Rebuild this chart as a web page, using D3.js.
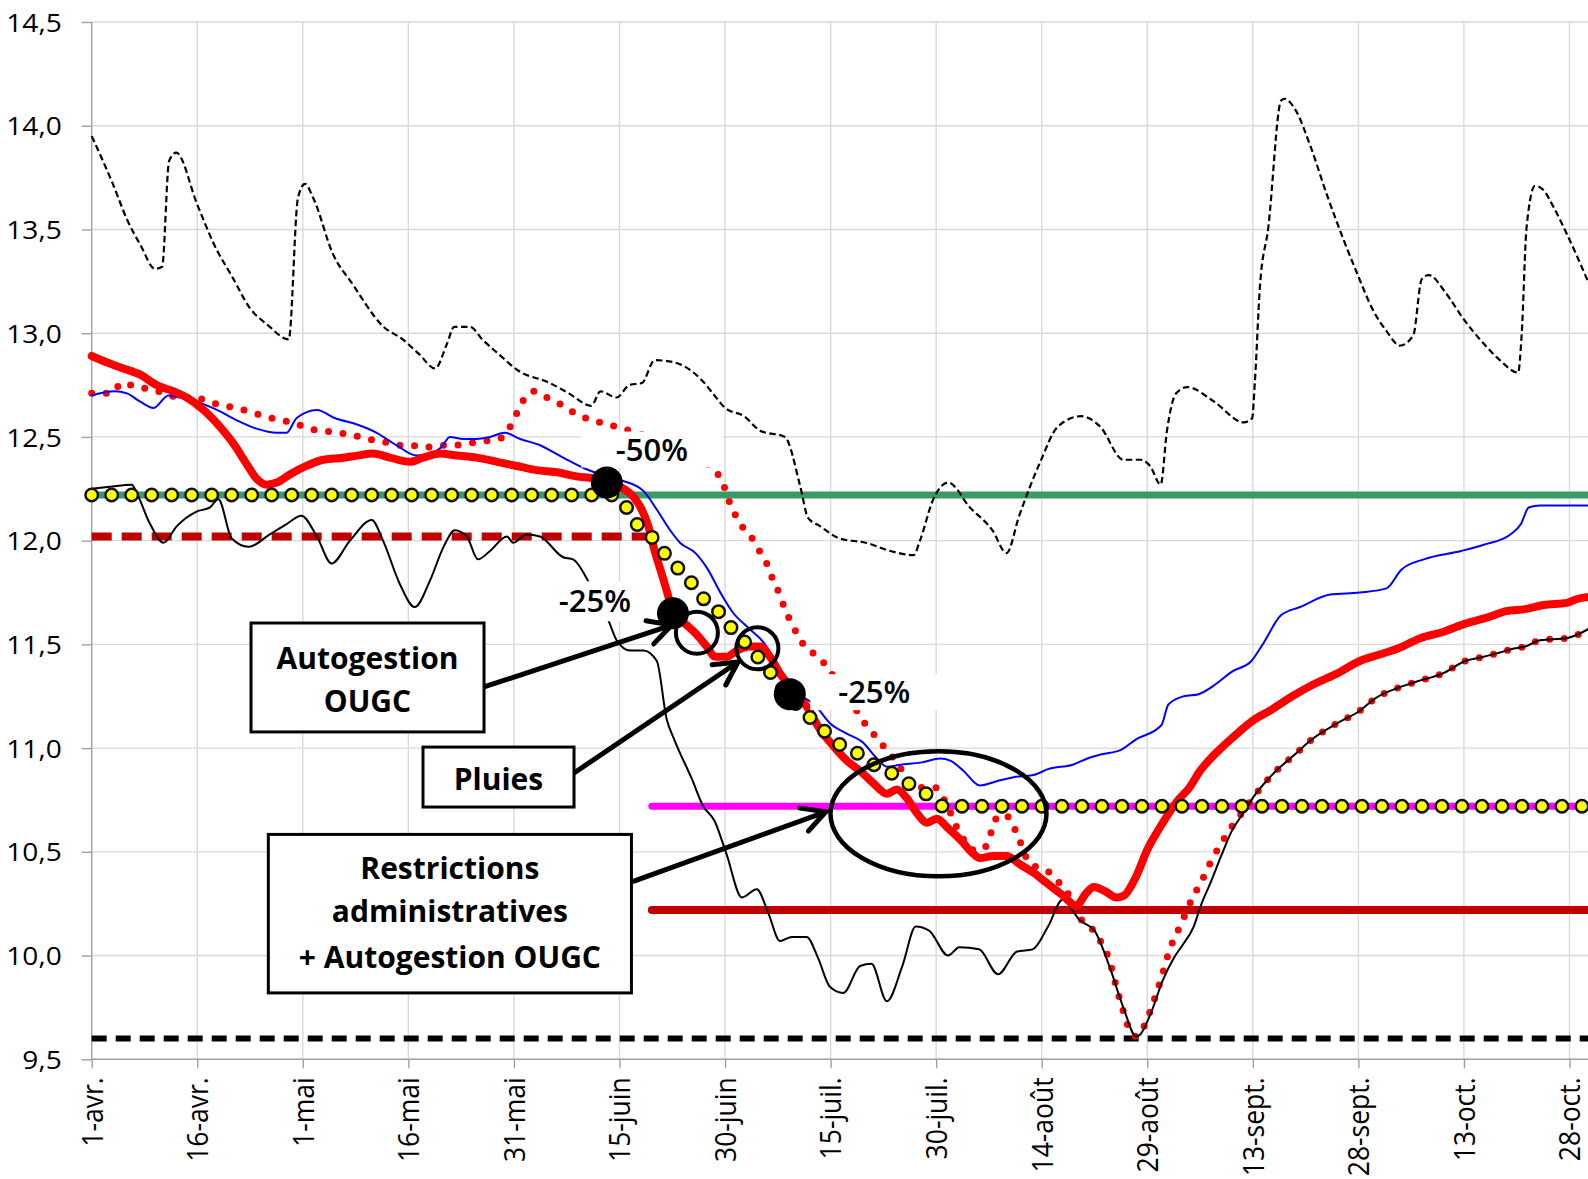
<!DOCTYPE html>
<html><head><meta charset="utf-8">
<script src="https://cdn.jsdelivr.net/npm/d3@7"></script>
<style>
body{margin:0;background:#fff}
svg{display:block}
text{font-family:'Open Sans',sans-serif}
</style>
</head><body>
<svg id="chart" width="1588" height="1179"></svg>
<script>
// ---------- DATA (x = days since 1 April, y = level in m) ----------
const xTickDays = [0,15,30,45,60,75,90,105,120,135,150,165,180,195,210];
const xTickLabels = ["1-avr.","16-avr.","1-mai","16-mai","31-mai","15-juin","30-juin","15-juil.","30-juil.","14-août","29-août","13-sept.","28-sept.","13-oct.","28-oct."];
const yTickValues = [9.5,10,10.5,11,11.5,12,12.5,13,13.5,14,14.5];

const upperDashed = [[0,13.95],[3,13.72],[5,13.55],[7,13.42],[9,13.31],[10,13.32],[11,13.83],[12,13.87],[15,13.62],[17.5,13.42],[20,13.27],[22.5,13.12],[25,13.04],[28,12.97],[29.3,13.65],[30.3,13.72],[31.5,13.65],[34.3,13.38],[37,13.24],[41.5,13.03],[44.2,12.97],[46.5,12.9],[48.8,12.83],[50.5,12.95],[51.5,13.03],[53.8,13.03],[55.5,12.97],[57.8,12.90],[60.6,12.82],[65.1,12.76],[67.8,12.71],[71,12.65],[72.3,12.72],[74.6,12.69],[76.4,12.75],[78.2,12.76],[80,12.87],[82.7,12.86],[86.8,12.77],[88.5,12.7],[90,12.64],[92.7,12.60],[95,12.53],[98.5,12.50],[100.7,12.26],[101.8,12.11],[103.5,12.07],[106.3,12.01],[110,11.99],[113.5,11.95],[116.8,11.93],[117.7,12.0],[119.6,12.20],[121.7,12.28],[124.8,12.16],[128,12.05],[130,11.94],[131.8,12.12],[134.8,12.38],[137.3,12.55],[140.6,12.60],[143.3,12.55],[146.6,12.39],[149,12.39],[150.4,12.36],[151.9,12.27],[152.8,12.53],[154.1,12.71],[155.7,12.74],[159.5,12.67],[163.7,12.57],[164.9,12.59],[165.3,12.77],[166,13.22],[167.2,13.51],[169,14.12],[169.5,14.13],[171,14.08],[173.2,13.90],[175.5,13.67],[177.9,13.45],[179.8,13.29],[182.1,13.11],[184,13.01],[185.9,12.94],[187.8,12.99],[189,13.26],[190,13.28],[192.5,13.19],[194.9,13.07],[197.8,12.95],[200.1,12.87],[202.7,12.81],[203.2,12.99],[203.9,13.51],[205.1,13.71],[206.3,13.69],[207.7,13.61],[209.6,13.48],[213,13.22]];

const lowerSolid = [[0,12.25],[2.6,12.26],[5.7,12.27],[6.4,12.23],[8.3,12.08],[10.2,11.99],[12.1,12.07],[14.9,12.14],[16.8,12.16],[18,12.20],[19.9,12.01],[22.3,11.97],[25.3,12.03],[27.7,12.08],[29.8,12.12],[32,12.02],[34.1,11.89],[36.7,12.0],[39.8,12.10],[41.4,12.0],[43.8,11.79],[45.9,11.68],[48.1,11.81],[50,11.97],[51.6,12.05],[53.3,12.02],[54.9,11.91],[56.6,11.95],[59,12.02],[59.9,11.99],[61.8,12.03],[63.7,12.02],[67,11.92],[68.4,11.91],[70.8,11.79],[73.5,11.61],[74.6,11.52],[76.5,11.47],[78.4,11.47],[80.3,11.42],[81.7,11.14],[82.8,11.04],[85.3,10.85],[86.9,10.72],[88.5,10.65],[90.2,10.49],[92.4,10.28],[94.5,10.32],[96.2,10.20],[97.8,10.07],[99.5,10.09],[101.6,10.09],[103.2,9.99],[104.9,9.85],[106.8,9.82],[109.2,9.95],[110.8,9.96],[113,9.78],[115.2,9.95],[117.1,10.14],[119,10.12],[121.7,10.0],[123.3,10.04],[126.1,10.03],[128.8,9.91],[131.5,10.02],[133.7,10.03],[135.9,10.14],[138,10.27],[140.4,10.17],[142.5,10.12],[144.6,9.95],[146.7,9.74],[148.4,9.61],[149,9.62],[150.6,9.73],[152.2,9.88],[153.8,9.99],[155,10.05],[156.6,10.14],[157.6,10.24],[159.1,10.36],[160.5,10.48],[162,10.6],[163.5,10.68],[165,10.76],[168,10.88],[171,10.97],[173.3,11.04],[177,11.12],[180.2,11.18],[182.4,11.24],[185.6,11.29],[188.2,11.32],[192,11.36],[195.2,11.42],[197.8,11.44],[200,11.46],[202.1,11.48],[203.7,11.49],[205.8,11.52],[209.6,11.53],[213,11.58]];

const blueLine = [[0,12.70],[3.3,12.72],[5,12.71],[6.9,12.67],[8.8,12.64],[10.9,12.70],[12.5,12.69],[14.9,12.67],[17.8,12.63],[20.6,12.58],[23.4,12.54],[26.3,12.52],[27.7,12.52],[29.1,12.59],[32,12.63],[34.6,12.59],[37.7,12.56],[40.5,12.52],[43.3,12.46],[46.2,12.41],[48.1,12.42],[49.7,12.45],[50.9,12.50],[52.8,12.49],[54.7,12.49],[56.6,12.50],[58.7,12.52],[60.9,12.49],[63.7,12.46],[67,12.40],[69.9,12.35],[72.2,12.32],[75.3,12.29],[78.4,12.24],[80.3,12.15],[82.2,12.05],[83.6,11.99],[85.8,11.94],[87.4,11.87],[89.5,11.74],[91.2,11.65],[93.3,11.58],[95.9,11.49],[97.3,11.40],[99,11.30],[100.9,11.25],[102.7,11.21],[104.9,11.12],[107.3,11.07],[109.5,11.03],[111.6,10.95],[113,10.91],[114.9,10.92],[117.8,10.93],[120.6,10.95],[122,10.94],[123.9,10.89],[126.2,10.82],[128.6,10.84],[131,10.86],[133.8,10.87],[136,10.90],[139.4,10.92],[141.5,10.95],[143.5,10.97],[146.2,10.99],[148.3,11.04],[152,11.11],[153,11.21],[155.2,11.25],[157.3,11.26],[159.4,11.30],[162.1,11.37],[164.8,11.42],[166.4,11.50],[169,11.64],[171.7,11.68],[176,11.74],[180.2,11.75],[184,11.77],[186.1,11.86],[189.3,11.91],[194.6,11.95],[197.8,11.98],[201.6,12.03],[203.1,12.08],[204.2,12.16],[205.8,12.17],[209.6,12.17],[213,12.17]];

const redThick = [[0,12.89],[2.1,12.86],[4.5,12.83],[6.9,12.80],[9.2,12.75],[11.6,12.72],[13.5,12.69],[15.9,12.63],[18.2,12.55],[20.1,12.47],[22,12.37],[23.4,12.30],[24.9,12.27],[26.3,12.28],[28.2,12.32],[30.5,12.36],[32.9,12.39],[35.8,12.40],[37.7,12.41],[40,12.42],[42.4,12.40],[45.2,12.38],[47.1,12.40],[49.5,12.42],[51.9,12.41],[54.7,12.40],[57.6,12.38],[60.4,12.36],[63.2,12.34],[66.1,12.33],[68.9,12.31],[71.3,12.30],[75.1,12.26],[77,12.21],[78,12.16],[79.1,12.07],[80,11.95],[81,11.84],[81.7,11.76],[82.6,11.66],[84,11.61],[85.9,11.55],[87.4,11.49],[88.6,11.44],[90.2,11.44],[91.7,11.47],[93.5,11.49],[95,11.49],[96.4,11.44],[97.8,11.36],[99.7,11.28],[101.6,11.20],[103.5,11.09],[105.4,11.01],[107.3,10.94],[109.2,10.89],[111.1,10.83],[113,10.78],[114.4,10.80],[115.8,10.76],[117.2,10.69],[118.7,10.64],[120.1,10.66],[121.5,10.62],[123.4,10.56],[125.3,10.49],[126.2,10.47],[128.1,10.48],[130,10.48],[131.9,10.44],[133.8,10.40],[135.7,10.35],[138,10.29],[139.9,10.24],[141.3,10.30],[142.4,10.33],[144,10.31],[145.6,10.28],[146.7,10.29],[148.4,10.38],[150,10.51],[152.2,10.64],[154.4,10.75],[156,10.81],[157.5,10.89],[159,10.95],[160.5,11.0],[162.1,11.05],[165.3,11.14],[167.4,11.18],[170.6,11.25],[173.8,11.31],[177,11.36],[180.2,11.42],[182.9,11.45],[185.6,11.48],[188.8,11.53],[192,11.56],[195.2,11.60],[198.4,11.63],[201,11.66],[203.7,11.67],[206.3,11.69],[209.6,11.70],[211.2,11.72],[213,11.73]];

const redDotted = [[0,12.71],[2.8,12.71],[4.3,12.76],[6.4,12.74],[8.3,12.73],[10.4,12.71],[12.5,12.69],[14.7,12.69],[16.6,12.67],[18.7,12.65],[20.6,12.64],[22.5,12.62],[24.6,12.60],[26.7,12.58],[28.6,12.57],[30.8,12.54],[32.9,12.53],[34.8,12.52],[36.9,12.51],[39.1,12.49],[41.2,12.48],[43.3,12.46],[45.2,12.46],[47.4,12.45],[49.5,12.46],[51.6,12.46],[53.8,12.47],[55.9,12.48],[57.9,12.49],[59.3,12.54],[60.2,12.60],[61.2,12.67],[62.8,12.72],[64.7,12.69],[66.5,12.66],[68.4,12.62],[70.3,12.59],[72.2,12.57],[74.4,12.55],[76.5,12.53],[80,12.49],[84,12.44],[87,12.38],[89,12.32],[90,12.25],[90.7,12.18],[91.7,12.11],[92.8,12.05],[94.3,11.99],[95.2,11.93],[96.2,11.87],[96.9,11.80],[97.8,11.74],[98.5,11.67],[99.5,11.60],[100.4,11.54],[101.6,11.48],[103.3,11.44],[104.7,11.38],[106.5,11.29],[108.2,11.21],[109.4,11.14],[110.6,11.09],[112,11.03],[113.5,10.97],[114.6,10.92],[115.8,10.86],[117.5,10.81],[119.8,10.81],[121,10.76],[122,10.69],[122.9,10.62],[123.9,10.56],[125.1,10.51],[126.6,10.51],[127.6,10.57],[128.3,10.65],[129.5,10.68],[130.7,10.65],[131.5,10.58],[132.3,10.52],[133.1,10.45],[136.1,10.40],[137.5,10.35],[138.9,10.29],[140.9,10.16],[142.4,10.12],[143.5,10.06],[144.6,9.98],[145.6,9.85],[146.7,9.72],[147.5,9.64],[148.4,9.61],[149.7,9.67],[150.6,9.75],[151.9,9.88],[153.1,10.02],[154.9,10.16],[156.6,10.29],[157.6,10.35],[159,10.45],[160.5,10.54],[162,10.62],[163.5,10.69],[165,10.76],[168,10.88],[171,10.97],[173.3,11.04],[177,11.12],[180.2,11.18],[182.4,11.24],[185.6,11.29],[188.2,11.32],[192,11.36],[195.2,11.42],[197.8,11.44],[200,11.46],[202.1,11.48],[203.7,11.49],[205.8,11.52],[209.6,11.53],[213,11.58]];

const yellowTarget = [[0,12.22],[74,12.22],[76,12.16],[77.7,12.07],[79.8,12.01],[81.6,11.93],[83.5,11.86],[85.4,11.79],[87.2,11.71],[89.3,11.65],[91.1,11.57],[93.1,11.50],[94.9,11.43],[96.8,11.35],[98.8,11.26],[100.5,11.20],[102.3,11.14],[104.5,11.07],[106.6,11.01],[109.1,10.97],[111.6,10.91],[114.2,10.87],[116.5,10.82],[119,10.77],[121,10.72],[213,10.72]];

// horizontal thresholds: [value, fromDay, toDay]
const greenLevel = [12.22, 0, 213];
const darkRedDashedLevel = [12.02, 0, 79];
const darkRedLevel = [10.22, 79.6, 213];
const magentaLevel = [10.72, 79.6, 213];
const bottomDashedLevel = [9.6, 0, 213];

// annotation points
const stepPoints = [[73.2,12.28],[82.6,11.65],[99.2,11.26]];
const stepLabels = ["-50%","-25%","-25%"];
const openCircles = [[86,11.556],[94.6,11.481]];

// ---------- DRAWING ----------
const svg = d3.select("#chart");
const W = 1588, H = 1179;
const x = d3.scaleLinear().domain([0,213]).range([91.7, 91.7 + 213*7.0371]);
const y = d3.scaleLinear().domain([9.5,14.5]).range([1059.3, 22]);
const X0 = x(0), XR = W, YB = y(9.5), YT = y(14.5);

// gridlines
const grid = svg.append("g");
grid.selectAll(".gv").data(xTickDays.slice(1)).join("line")
  .attr("x1", d=>x(d)).attr("x2", d=>x(d)).attr("y1", YT).attr("y2", YB)
  .attr("stroke", "#d9d9d9").attr("stroke-width", 1.4);
grid.selectAll(".gh").data(yTickValues.slice(1)).join("line")
  .attr("x1", X0).attr("x2", XR).attr("y1", d=>y(d)).attr("y2", d=>y(d))
  .attr("stroke", "#d9d9d9").attr("stroke-width", 1.4);

// axes
const xAxis = d3.axisBottom(x).tickValues(xTickDays).tickSize(9).tickFormat((d,i)=>xTickLabels[i]);
const gx = svg.append("g").attr("transform", `translate(0,${YB})`).call(xAxis);
gx.select(".domain").attr("stroke","#a0a0a0").attr("stroke-width",1.4).attr("d", `M${X0},0H${XR}`);
gx.selectAll(".tick line").attr("stroke","#a0a0a0").attr("stroke-width",1.4);
gx.selectAll(".tick text").attr("font-size", 26.5).attr("fill","#000")
  .attr("font-family","'Open Sans',sans-serif")
  .attr("transform","scale(1.08,1) rotate(-90)").attr("text-anchor","end")
  .attr("x", -18).attr("y", 0).attr("dy","0.36em");

const yAxis = d3.axisLeft(y).tickValues(yTickValues).tickSize(10)
  .tickFormat(d=>d3.format(".1f")(d).replace(".",","));
const gy = svg.append("g").attr("transform", `translate(${X0},0)`).call(yAxis);
gy.select(".domain").attr("stroke","#a0a0a0").attr("stroke-width",1.4).attr("d", `M0,${YT}V${YB}`);
gy.selectAll(".tick line").attr("stroke","#a0a0a0").attr("stroke-width",1.4);
gy.selectAll(".tick text").attr("font-size", 26).attr("fill","#000")
  .attr("font-family","'Open Sans',sans-serif")
  .attr("transform","scale(1.08,1)").attr("x", -30/1.08).attr("dy","0.35em");

const smooth = d3.line().x(d=>x(d[0])).y(d=>y(d[1])).curve(d3.curveMonotoneX);
const straight = d3.line().x(d=>x(d[0])).y(d=>y(d[1]));
const level = L => [[L[1], L[0]], [L[2], L[0]]];

const plot = svg.append("g");
function path(data, gen, attrs){
  const p = plot.append("path").attr("d", gen(data)).attr("fill","none");
  for (const k in attrs) p.attr(k, attrs[k]);
  return p;
}
path(level(bottomDashedLevel), straight, {stroke:"#000","stroke-width":6,"stroke-dasharray":"15 9"});
path(level(darkRedDashedLevel), straight, {stroke:"#c00000","stroke-width":8,"stroke-dasharray":"20 10"});
path(level(greenLevel), straight, {stroke:"#3a9a66","stroke-width":7});
path(level(darkRedLevel), straight, {stroke:"#c00000","stroke-width":8,"stroke-linecap":"round"});
path(level(magentaLevel), straight, {stroke:"#ff00ff","stroke-width":7,"stroke-linecap":"round"});
path(upperDashed, smooth, {stroke:"#000","stroke-width":2.2,"stroke-dasharray":"6.5 3.5"});
path(redDotted, smooth, {stroke:"#ff0000","stroke-width":7,"stroke-dasharray":"0 14.6","stroke-linecap":"round"});
path(blueLine, smooth, {stroke:"#0000ff","stroke-width":2});
path(lowerSolid, smooth, {stroke:"#000","stroke-width":2});
path(redThick, smooth, {stroke:"#ff0000","stroke-width":8,"stroke-linejoin":"round","stroke-linecap":"round"});
path(yellowTarget, smooth, {stroke:"#111","stroke-width":15,"stroke-dasharray":"0 20","stroke-linecap":"round"});
path(yellowTarget, smooth, {stroke:"#ffff00","stroke-width":10,"stroke-dasharray":"0 20","stroke-linecap":"round"});

// ---------- ANNOTATIONS ----------
const ann = svg.append("g");
const labelSpecs = [
  {t:stepLabels[0], cx:x(stepPoints[0][0])+45, cy:y(stepPoints[0][1])-33, w:141, h:36},
  {t:stepLabels[1], cx:x(stepPoints[1][0])-78, cy:y(stepPoints[1][1])-12, w:96, h:40},
  {t:stepLabels[2], cx:x(stepPoints[2][0])+84.5, cy:y(stepPoints[2][1])-2, w:128, h:36}
];
labelSpecs.forEach(s=>{
  ann.append("rect").attr("x", s.cx - s.w/2).attr("y", s.cy - s.h/2).attr("width", s.w).attr("height", s.h).attr("fill","#fff");
});
labelSpecs.forEach(s=>{
  ann.append("text").attr("x", s.cx).attr("y", s.cy).attr("dy","0.36em").attr("text-anchor","middle")
    .attr("font-size", 31).attr("font-weight", 600).attr("fill","#000").text(s.t);
});
ann.selectAll(".dot").data(stepPoints).join("circle")
  .attr("cx", d=>x(d[0])).attr("cy", d=>y(d[1])).attr("r", 16).attr("fill","#000");
ann.selectAll(".oc").data(openCircles).join("circle")
  .attr("cx", d=>x(d[0])).attr("cy", d=>y(d[1])).attr("r", 21).attr("fill","none")
  .attr("stroke","#000").attr("stroke-width",4);
ann.append("ellipse").attr("cx", x(120.33)).attr("cy", y(10.683)).attr("rx",108).attr("ry",62.5)
  .attr("fill","none").attr("stroke","#000").attr("stroke-width",4.5);

// text boxes
const boxes = [
  {x0:22.64, x1:55.75, yTop:11.603, yBot:11.078, lines:["Autogestion","OUGC"], ly:[11.434,11.227]},
  {x0:47.08, x1:68.54, yTop:11.005, yBot:10.716, lines:["Pluies"], ly:[10.850]},
  {x0:25.1, x1:76.7, yTop:10.584, yBot:9.82, lines:["Restrictions","administratives","+ Autogestion OUGC"], ly:[10.423,10.212,9.993]}
];
boxes.forEach(b=>{
  ann.append("rect").attr("x", x(b.x0)).attr("y", y(b.yTop)).attr("width", x(b.x1)-x(b.x0))
    .attr("height", y(b.yBot)-y(b.yTop)).attr("fill","#fff").attr("stroke","#000").attr("stroke-width",3);
  b.lines.forEach((t,i)=>{
    ann.append("text").attr("x", (x(b.x0)+x(b.x1))/2).attr("y", y(b.ly[i])).attr("dy","0.36em")
      .attr("text-anchor","middle").attr("font-size",30).attr("font-weight","bold").attr("fill","#000").text(t);
  });
});

// arrows: [fromDay, fromVal, toDay, toVal]
const arrows = [[55.75,11.295,82.42,11.593],[68.54,10.880,91.84,11.415],[76.85,10.356,104.32,10.693]];
arrows.forEach(a=>{
  const x1=x(a[0]), y1=y(a[1]), x2=x(a[2]), y2=y(a[3]);
  const ang = Math.atan2(y2-y1, x2-x1);
  const L = 26, hw = 28*Math.PI/180;
  ann.append("line").attr("x1",x1).attr("y1",y1).attr("x2",x2).attr("y2",y2)
    .attr("stroke","#000").attr("stroke-width",5);
  const p1 = [x2 - L*Math.cos(ang-hw), y2 - L*Math.sin(ang-hw)];
  const p2 = [x2 - L*Math.cos(ang+hw), y2 - L*Math.sin(ang+hw)];
  ann.append("path").attr("d", `M${p1[0]},${p1[1]}L${x2},${y2}L${p2[0]},${p2[1]}`)
    .attr("fill","none").attr("stroke","#000").attr("stroke-width",5).attr("stroke-linecap","round").attr("stroke-linejoin","miter");
});
</script>
</body></html>
